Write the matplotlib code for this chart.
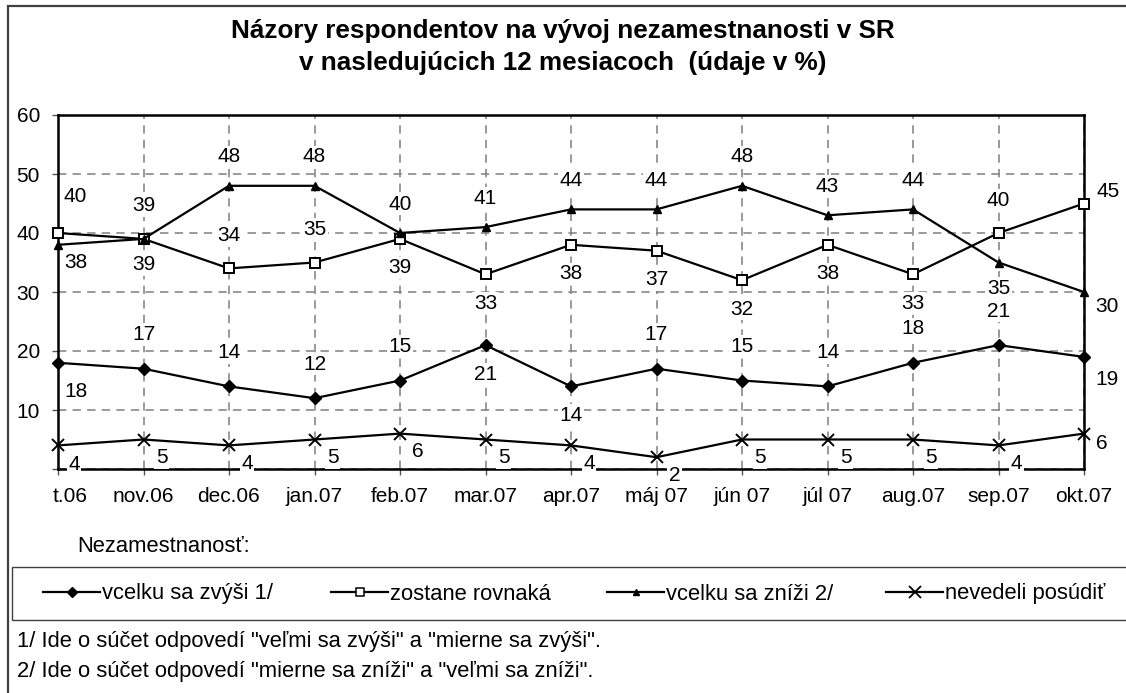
import numpy as np
import matplotlib
matplotlib.use("Agg")
import matplotlib.pyplot as plt
from matplotlib.lines import Line2D
from matplotlib.patches import Rectangle
import matplotlib.transforms as mtransforms

plt.rcParams['font.family'] = ['Liberation Sans', 'DejaVu Sans']
plt.rcParams['lines.scale_dashes'] = False

# ---------------- data ----------------
months = ["t.06", "nov.06", "dec.06", "jan.07", "feb.07", "mar.07", "apr.07",
          "máj 07", "jún 07", "júl 07", "aug.07", "sep.07", "okt.07"]
zvysi = [18, 17, 14, 12, 15, 21, 14, 17, 15, 14, 18, 21, 19]
rovnaka = [40, 39, 34, 35, 39, 33, 38, 37, 32, 38, 33, 40, 45]
znizi = [38, 39, 48, 48, 40, 41, 44, 44, 48, 43, 44, 35, 30]
nevedeli = [4, 5, 4, 5, 6, 5, 4, 2, 5, 5, 5, 4, 6]
y_ticks = [0, 10, 20, 30, 40, 50, 60]
y_tick_labels = ["", "10", "20", "30", "40", "50", "60"]

labels_legend = ["vcelku sa zvýši 1/", "zostane rovnaká",
                 "vcelku sa zníži 2/", "nevedeli posúdiť"]

# label placement codes (style)
pos_zvysi = ['f', 'a', 'a', 'a', 'a', 'b', 'b', 'a', 'a', 'a', 'a', 'a', 'l']
pos_rovnaka = ['f', 'a', 'a', 'a', 'b', 'b', 'b', 'b', 'b', 'b', 'b', 'a', 'l']
pos_znizi = ['f', 'b', 'a', 'a', 'a', 'a', 'a', 'a', 'a', 'a', 'a', 'b', 'l']
pos_nevedeli = ['f'] + ['b'] * 11 + ['l']

# offsets in pixels (dx right, dy down)
off_zvysi = {'a': (0, -34), 'b': (0, 29), 'f': (18, 29), 'l': (23, 23)}
off_rovnaka = {'a': (0, -33), 'b': (0, 29), 'f': (17, -37), 'l': (24, -12)}
off_znizi = {'a': (0, -29), 'b': (0, 26), 'f': (18, 18), 'l': (23, 15)}
off_nevedeli = {'b': (18, 18), 'f': (16, 19), 'l': (18, 10)}

W, H = 1126, 693


def fx(px):
    return px / W


def fy(py):
    return 1 - py / H


fig = plt.figure(figsize=(W / 100, H / 100), dpi=100)
fig.patch.set_facecolor('white')

# plot area
L, R, T, B = 58, 1084, 115, 469
ax = fig.add_axes([fx(L), fy(B), (R - L) / W, (B - T) / H])
x = np.arange(len(months))
ax.set_xlim(0, len(months) - 1)
ax.set_ylim(0, 60)

ax.set_axisbelow(True)
ax.grid(True, linestyle=(0, (6, 4.5)), color='#7f7f7f', linewidth=1.1)

for s in ax.spines.values():
    s.set_linewidth(1.8)
    s.set_color('black')

ax.set_yticks(y_ticks)
ax.set_yticklabels(y_tick_labels)
ax.set_xticks(x)
ax.set_xticklabels(months)
ax.tick_params(axis='both', direction='out', length=4.5, width=1.0,
               color='#555555', labelsize=15, pad=8.5)

# shift the clipped first x label to the right
first = ax.get_xticklabels()[0]
first.set_transform(first.get_transform() +
                    mtransforms.ScaledTranslation(12 / 100, 0, fig.dpi_scale_trans))

series = [
    (zvysi, dict(marker='D', ms=6.5, mfc='black', mec='black', mew=1.0),
     pos_zvysi, off_zvysi),
    (rovnaka, dict(marker='s', ms=7.5, mfc='white', mec='black', mew=1.4),
     pos_rovnaka, off_rovnaka),
    (znizi, dict(marker='^', ms=6, mfc='black', mec='black', mew=1.0),
     pos_znizi, off_znizi),
    (nevedeli, dict(marker='x', ms=9, mfc='black', mec='black', mew=1.4),
     pos_nevedeli, off_nevedeli),
]

for vals, mk, pos, off in series:
    ax.plot(x, vals, color='black', lw=1.6, clip_on=False, zorder=5, **mk)
    for xi, v, p in zip(x, vals, pos):
        dx, dy = off[p]
        ax.annotate(str(v), (xi, v), xytext=(dx, -dy), textcoords='offset pixels',
                    ha='center', va='center', fontsize=15, color='black',
                    zorder=4, annotation_clip=False,
                    bbox=dict(boxstyle='square,pad=0.08', fc='white', ec='none'))

# title
fig.text(fx(563), fy(31), "Názory respondentov na vývoj nezamestnanosti v SR",
         ha='center', va='center', fontsize=18.8, fontweight='bold')
fig.text(fx(563), fy(63), "v nasledujúcich 12 mesiacoch  (údaje v %)",
         ha='center', va='center', fontsize=18.8, fontweight='bold')

# outer border (cropped on right and bottom)
fig.patches.append(Rectangle((fx(8), -0.1), 1.2, fy(6) + 0.1, fill=False,
                             ec='#404040', lw=1.6, transform=fig.transFigure))

fig.text(fx(77), fy(547), "Nezamestnanosť:", ha='left', va='center', fontsize=15.8)

# legend box
fig.patches.append(Rectangle((fx(12), fy(620)), 1.2, (620 - 567) / H, fill=False,
                             ec='#404040', lw=1.0, transform=fig.transFigure))

leg_x = [43, 331, 607, 886]
leg_mk = [dict(marker='D', ms=5.5, mfc='black', mec='black'),
          dict(marker='s', ms=5.5, mfc='white', mec='black', mew=1.1),
          dict(marker='^', ms=4, mfc='black', mec='black'),
          dict(marker='x', ms=8, mec='black', mew=1.3)]
for lx, lab, mk in zip(leg_x, labels_legend, leg_mk):
    h = Line2D([], [], color='black', lw=1.6, **mk)
    fig.legend(handles=[h], labels=[lab], loc='center left',
               bbox_to_anchor=(fx(lx), fy(594)), frameon=False, fontsize=15.8,
               handlelength=2.6, handletextpad=0.08, borderpad=0,
               borderaxespad=0)

fig.text(fx(17), fy(641), "1/ Ide o súčet odpovedí \"veľmi sa zvýši\" a \"mierne sa zvýši\".",
         ha='left', va='center', fontsize=15.8)
fig.text(fx(17), fy(671), "2/ Ide o súčet odpovedí \"mierne sa zníži\" a \"veľmi sa zníži\".",
         ha='left', va='center', fontsize=15.8)

fig.savefig("out.png", dpi=100, facecolor='white')
